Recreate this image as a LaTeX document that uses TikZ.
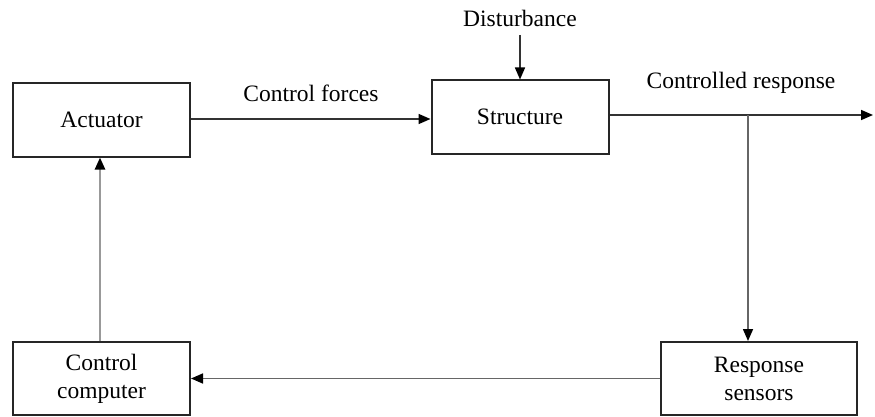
\documentclass[tikz,border=0pt]{standalone}
\usepackage{fontspec}
\setmainfont{Liberation Serif}
\usetikzlibrary{arrows.meta}
\begin{document}
\begin{tikzpicture}[x=1pt,y=-1pt,
  block/.style={draw=black!85, line width=2pt, minimum width=177pt, minimum height=73pt, inner sep=0pt, align=center, font=\fontsize{23.5}{28}\selectfont},
  lbl/.style={font=\fontsize{23.5}{28}\selectfont, inner sep=0pt},
  wire/.style={line width=1.6pt, draw=black!80},
  fb/.style={line width=2.4pt, draw=black!40},
  tip/.style={-{Triangle[length=12pt,width=10pt,color=black]}}
]
\useasboundingbox (0,0) rectangle (875,417);

% blocks
\node[block] (act) at (101.5,120) {Actuator};
\node[block] (str) at (520,117) {Structure};
\node[block] (ctl) at (101.5,378.5) {Control\\computer};
\node[block, minimum width=196pt] (sens) at (759,378.5) {Response\\sensors};

% labels
\node[lbl] (dlab) at (520,18) {Disturbance};
\node[lbl] (flab) at (311,93) {Control forces};
\node[lbl] (rlab) at (741,83) {Controlled response};

% free ends
\coordinate (dtop) at (520,35);
\coordinate (out) at (873,115);
\coordinate (branch) at (748,115);

% forward path
\draw[wire, tip] (dtop) -- (str.north);
\draw[wire, tip] (act.east |- 0,119) -- (str.west |- 0,119);
\draw[wire, tip] (str.east |- branch) -- (out);

% feedback path
\draw[wire, draw=black!60, tip] (branch) -- (branch |- sens.north);
\draw[wire, draw=black!60, tip] (sens.west) -- (ctl.east);
\draw[fb, tip] (ctl.north -| 100,0) -- (act.south -| 100,0);
\end{tikzpicture}
\end{document}
